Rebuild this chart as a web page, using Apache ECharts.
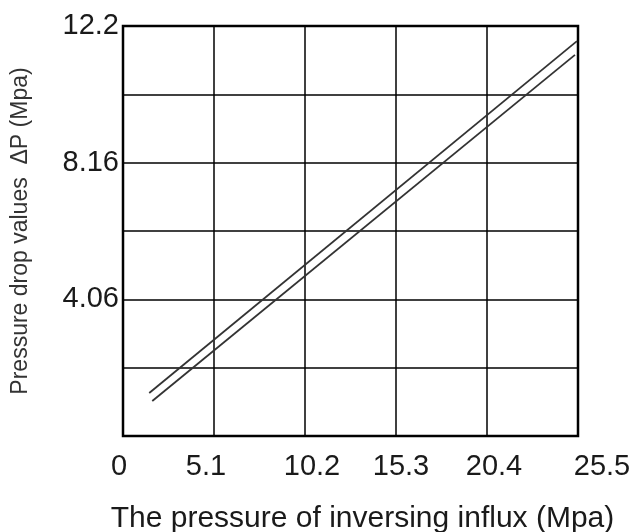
<!DOCTYPE html>
<html>
<head>
<meta charset="utf-8">
<script src="https://cdn.jsdelivr.net/npm/echarts@6/dist/echarts.min.js"></script>
<style>html,body{margin:0;padding:0;background:#fff}#c{width:635px;height:532px}</style>
</head>
<body>
<div id="c"></div>
<script>
// Data
const xTickLabels = ['0', '5.1', '10.2', '15.3', '20.4', '25.5'];
const yTickLabels = ['', '', '4.06', '', '8.16', '', '12.2'];
const xMax = 25.5;
const yMax = 12.2;
const upperLine = [[1.47, 1.28], [25.44, 11.75]];
const lowerLine = [[1.64, 1.04], [25.33, 11.34]];

const xInterval = xMax / (xTickLabels.length - 1);
const yInterval = yMax / (yTickLabels.length - 1);
const xShift = [-4, -8, 7, 5, 7, 24];
const rich = {};
xShift.forEach((d, i) => {
  rich['s' + i] = {
    fontSize: 29, fontFamily: 'Liberation Sans', color: '#1a1a1a',
    padding: d >= 0 ? [0, 0, 0, 2 * d] : [0, -2 * d, 0, 0]
  };
});

const chart = echarts.init(document.getElementById('c'), null, {renderer: 'canvas'});
chart.setOption({
  animation: false,
  backgroundColor: '#fff',
  grid: {left: 123, right: 57, top: 26, bottom: 96, containLabel: false, outerBoundsMode: 'none', show: true, borderColor: '#000', borderWidth: 2.5, backgroundColor: 'transparent'},
  xAxis: {
    type: 'value', min: 0, max: xMax, interval: xInterval,
    name: 'The pressure of inversing influx (Mpa)',
    nameLocation: 'middle', nameGap: 68,
    nameTextStyle: {fontSize: 30, fontFamily: 'Liberation Sans', color: '#1a1a1a', padding: [0, 0, 0, 24]},
    axisLine: {show: false},
    axisTick: {show: false},
    axisLabel: {
      margin: 16,
      formatter: v => { const i = Math.round(v / xInterval); return '{s' + i + '|' + xTickLabels[i] + '}'; },
      rich: rich
    },
    splitLine: {show: true, lineStyle: {color: '#000', width: 1.5}}
  },
  yAxis: {
    type: 'value', min: 0, max: yMax, interval: yInterval,
    name: 'Pressure drop values  \u0394P (Mpa)',
    nameLocation: 'middle', nameGap: 91, nameRotate: 90,
    nameTextStyle: {fontSize: 23, fontFamily: 'Liberation Sans', color: '#333'},
    axisLine: {show: false},
    axisTick: {show: false},
    axisLabel: {
      margin: 4, fontSize: 29, fontFamily: 'Liberation Sans', color: '#1a1a1a',
      formatter: v => yTickLabels[Math.round(v / yInterval)]
    },
    splitLine: {show: true, lineStyle: {color: '#000', width: 1.5}}
  },
  series: [
    {type: 'line', data: upperLine, showSymbol: false, symbol: 'none', lineStyle: {color: '#333', width: 1.8}},
    {type: 'line', data: lowerLine, showSymbol: false, symbol: 'none', lineStyle: {color: '#333', width: 1.8}}
  ]
});
</script>
</body>
</html>
